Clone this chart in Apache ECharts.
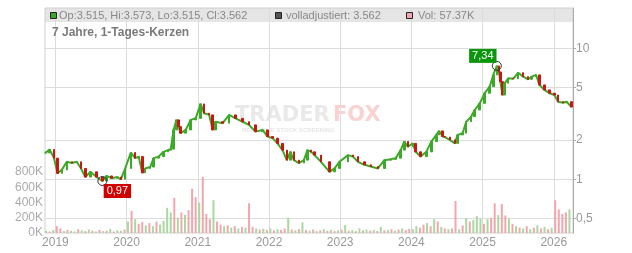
<!DOCTYPE html>
<html><head><meta charset="utf-8">
<script src="https://cdn.jsdelivr.net/npm/echarts@6/dist/echarts.min.js"></script>
<style>html,body{margin:0;padding:0;background:#fff}#c{width:632px;height:253px}</style>
</head><body><div id="c"></div>
<script>
// ---- data ----
const priceYears = [
2018.86,2018.92,2018.98,2019.03,2019.09,2019.16,2019.23,2019.30,2019.36,2019.42,
2019.49,2019.58,2019.66,2019.72,2019.79,2019.87,2019.92,2019.98,2020.06,2020.12,
2020.17,2020.22,2020.26,2020.33,2020.38,2020.45,2020.52,2020.58,2020.62,2020.66,
2020.70,2020.73,2020.76,2020.83,2020.90,2020.97,2021.04,2021.09,2021.16,2021.21,
2021.25,2021.35,2021.44,2021.53,2021.63,2021.72,2021.81,2021.91,2021.98,2022.05,
2022.12,2022.19,2022.25,2022.30,2022.35,2022.42,2022.49,2022.54,2022.59,2022.64,
2022.73,2022.85,2022.92,2022.99,2023.11,2023.18,2023.25,2023.34,2023.43,2023.53,
2023.62,2023.71,2023.78,2023.85,2023.90,2023.95,2024.02,2024.06,2024.13,2024.21,
2024.28,2024.35,2024.39,2024.44,2024.47,2024.54,2024.61,2024.65,2024.72,2024.77,
2024.84,2024.89,2024.96,2025.03,2025.10,2025.15,2025.20,2025.23,2025.25,2025.28,
2025.31,2025.36,2025.43,2025.50,2025.57,2025.64,2025.69,2025.75,2025.80,2025.87,
2025.94,2026.01,2026.06,2026.13,2026.18,2026.25];
const priceClose = [
1.59,1.69,1.45,1.11,1.18,1.36,1.33,1.36,1.21,1.04,
1.14,1.04,0.97,1.06,1.02,1.04,1.00,1.21,1.60,1.45,
1.49,1.12,1.21,1.24,1.45,1.49,1.62,1.67,1.70,2.38,
2.84,2.52,2.25,2.38,2.84,2.92,3.76,3.19,3.10,2.38,
2.75,2.68,3.10,2.92,2.75,2.60,2.31,2.38,2.12,2.06,
1.88,1.67,1.40,1.62,1.40,1.33,1.40,1.67,1.62,1.53,
1.36,1.14,1.21,1.36,1.53,1.49,1.36,1.29,1.25,1.21,
1.40,1.42,1.45,1.67,1.94,1.77,1.88,1.62,1.49,1.62,
1.94,2.18,2.34,2.12,2.10,2.00,1.88,2.18,2.25,2.75,
3.01,3.38,3.80,4.54,5.09,6.26,7.34,6.59,5.56,4.40,
5.41,5.90,5.85,6.51,6.07,5.80,6.07,6.26,5.25,4.81,
4.54,4.40,3.91,3.84,3.91,3.56];

const volYears = [
2018.87,2018.92,2018.97,
2019.02,2019.07,2019.12,2019.17,2019.22,2019.27,2019.32,2019.37,2019.42,2019.47,2019.52,2019.57,2019.62,2019.67,2019.72,2019.77,2019.82,2019.87,2019.92,2019.97,
2020.02,2020.07,2020.12,2020.17,2020.22,2020.27,2020.32,2020.37,2020.42,2020.47,2020.52,2020.57,2020.62,2020.67,2020.72,2020.77,2020.82,2020.87,2020.92,2020.97,
2021.02,2021.07,2021.12,2021.17,2021.22,2021.27,2021.32,2021.37,2021.42,2021.47,2021.52,2021.57,2021.62,2021.67,2021.72,2021.77,2021.82,2021.87,2021.92,2021.97,
2022.02,2022.07,2022.12,2022.17,2022.22,2022.27,2022.32,2022.37,2022.42,2022.47,2022.52,2022.57,2022.62,2022.67,2022.72,2022.77,2022.82,2022.87,2022.92,2022.97,
2023.02,2023.07,2023.12,2023.17,2023.22,2023.27,2023.32,2023.37,2023.42,2023.47,2023.52,2023.57,2023.62,2023.67,2023.72,2023.77,2023.82,2023.87,2023.92,2023.97,
2024.02,2024.07,2024.12,2024.17,2024.22,2024.27,2024.32,2024.37,2024.42,2024.47,2024.52,2024.57,2024.62,2024.67,2024.72,2024.77,2024.82,2024.87,2024.92,2024.97,
2025.02,2025.07,2025.12,2025.17,2025.22,2025.27,2025.32,2025.37,2025.42,2025.47,2025.52,2025.57,2025.62,2025.67,2025.72,2025.77,2025.82,2025.87,2025.92,2025.97,
2026.02,2026.07,2026.12,2026.17,2026.22];
const volK = [
30,20,40,
90,60,25,40,30,20,50,35,25,45,30,20,40,25,30,55,20,35,30,45,
150,290,180,120,145,100,130,90,150,110,160,330,270,460,200,270,240,300,580,470,
400,735,250,180,430,150,110,90,100,70,90,60,80,70,390,80,60,45,55,40,
60,35,50,40,60,200,45,35,50,140,40,30,45,25,35,50,30,40,25,35,
45,105,30,40,25,60,35,45,30,40,25,80,35,40,50,30,45,60,40,55,
50,90,70,110,130,90,180,150,80,60,50,60,420,50,100,195,150,170,220,190,
120,180,200,390,235,380,230,190,120,90,70,60,90,50,70,100,60,80,50,70,
430,310,250,270,310];
const volUp = [
1,0,1,
0,0,1,0,1,1,0,1,0,1,0,1,0,1,0,1,0,1,1,0,
1,0,1,0,0,1,0,1,0,1,1,1,1,0,1,0,1,0,0,0,
1,0,0,0,1,0,0,1,0,1,0,1,0,1,0,0,1,0,1,0,
1,0,1,0,0,1,0,1,0,1,0,1,0,1,0,1,0,1,0,1,
0,1,0,1,0,1,0,1,0,1,0,1,0,1,0,1,0,1,0,0,
1,1,0,0,1,0,1,0,1,0,1,0,0,1,0,1,0,1,1,1,
0,1,0,0,1,0,0,1,0,1,0,1,0,1,0,1,0,1,0,1,
0,0,0,0,1];

const yearTicks = [2019,2020,2021,2022,2023,2024,2025,2026];
const priceTicks = [0.5,1,2,5,10];
const highMark = {year: 2025.20, value: 7.34, text: '7,34'};
const lowMark  = {year: 2019.66, value: 0.97, text: '0,97'};
const headerOHLC = 'Op:3.515, Hi:3.573, Lo:3.515, Cl:3.562';
const headerAdj = 'volladjustiert: 3.562';
const headerVol = 'Vol: 57.37K';
const titleText = '7 Jahre, 1-Tages-Kerzen';

// ---- build series data ----
const UP = '#3caa28', DOWN = '#cc1515';
const linePts = priceYears.map((t, i) => [t, priceClose[i]]);
const candles = priceYears.map((t, i) => {
  const o = i === 0 ? priceClose[0] : priceClose[i - 1];
  const c = priceClose[i];
  return [t, o, c, Math.min(o, c), Math.max(o, c)];
});
const volData = volYears.map((t, i) => ({
  value: [t, volK[i]],
  itemStyle: {color: volUp[i] ? '#a8d9a0' : '#f2a6ae'}
}));

const FONT = '"Liberation Sans", Arial, sans-serif';
const chart = echarts.init(document.getElementById('c'), null, {renderer: 'canvas'});
chart.setOption({
  animation: false,
  grid: [
    {left: 45, right: 59, top: 8, bottom: 20, show: true, borderColor: '#cfcfcf', borderWidth: 1},
    {left: 45, right: 59, bottom: 20, height: 76.25}
  ],
  xAxis: [
    {type: 'value', gridIndex: 0, min: 2018.854, max: 2026.27,
     axisLine: {show: false},
     axisTick: {show: false, customValues: yearTicks},
     axisLabel: {customValues: yearTicks, formatter: v => String(Math.round(v)), color: '#999', fontSize: 12, fontFamily: FONT, margin: 4},
     splitLine: {show: true, lineStyle: {color: '#dcdcdc', width: 1}}},
    {type: 'value', gridIndex: 1, min: 2018.854, max: 2026.27, show: false, splitLine: {show: false}}
  ],
  yAxis: [
    {type: 'log', logBase: 10, gridIndex: 0, position: 'right', min: 0.389, max: 20.3,
     axisLine: {show: true, lineStyle: {color: '#aaa'}},
     axisTick: {show: true, length: 3, customValues: priceTicks, lineStyle: {color: '#aaa'}},
     axisLabel: {customValues: priceTicks, formatter: v => String(Math.round(v * 10) / 10).replace('.', ','), color: '#999', fontSize: 12, fontFamily: FONT, margin: 3},
     splitLine: {show: true, lineStyle: {color: '#dcdcdc', width: 1}}},
    {type: 'value', gridIndex: 1, position: 'left', min: 0, max: 1000, interval: 200,
     axisLine: {show: false}, axisTick: {show: false}, splitLine: {show: false},
     axisLabel: {formatter: v => v >= 1000 ? '' : v + 'K', color: '#aaa', fontSize: 12, fontFamily: FONT, margin: 2}}
  ],
  series: [
    {type: 'bar', xAxisIndex: 1, yAxisIndex: 1, data: volData, barWidth: 2, z: 1, silent: true},
    {type: 'line', xAxisIndex: 0, yAxisIndex: 0, data: linePts, symbol: 'none', z: 3,
     lineStyle: {color: UP, width: 2}, silent: true},
    {type: 'candlestick', xAxisIndex: 0, yAxisIndex: 0, data: candles, barWidth: 2, z: 4, silent: true,
     itemStyle: {color: UP, color0: DOWN, borderColor: UP, borderColor0: DOWN, borderWidth: 1},
     markPoint: {
       symbol: 'circle', symbolSize: 9, silent: true,
       itemStyle: {color: 'rgba(0,0,0,0)', borderColor: '#333', borderWidth: 1},
       data: [
         {coord: [highMark.year, highMark.value],
          label: {show: true, formatter: highMark.text, position: 'inside', offset: [-14, -10],
                  backgroundColor: '#0a960a', color: '#fff', padding: [1, 3], fontSize: 11, fontFamily: FONT, lineHeight: 12}},
         {coord: [lowMark.year, lowMark.value],
          label: {show: true, formatter: lowMark.text, position: 'inside', offset: [15, 10],
                  backgroundColor: '#d00000', color: '#fff', padding: [1, 3], fontSize: 11, fontFamily: FONT, lineHeight: 12}}
       ]
     }}
  ],
  graphic: [
    {type: 'rect', z: -1, silent: true, shape: {x: 45, y: 8, width: 528, height: 14}, style: {fill: '#e5e5e5'}},
    {type: 'rect', z: 10, silent: true, shape: {x: 50.5, y: 12.5, width: 6, height: 6}, style: {fill: '#3caa28', stroke: '#222', lineWidth: 1}},
    {type: 'text', z: 10, silent: true, x: 59, y: 16, style: {text: headerOHLC, fill: '#888', font: '11px ' + FONT, verticalAlign: 'middle'}},
    {type: 'rect', z: 10, silent: true, shape: {x: 275.5, y: 12.5, width: 6, height: 6}, style: {fill: '#555', stroke: '#222', lineWidth: 1}},
    {type: 'text', z: 10, silent: true, x: 286, y: 16, style: {text: headerAdj, fill: '#888', font: '11px ' + FONT, verticalAlign: 'middle'}},
    {type: 'rect', z: 10, silent: true, shape: {x: 406.5, y: 12.5, width: 6, height: 6}, style: {fill: '#f2a6ae', stroke: '#222', lineWidth: 1}},
    {type: 'text', z: 10, silent: true, x: 418, y: 16, style: {text: headerVol, fill: '#888', font: '11px ' + FONT, verticalAlign: 'middle'}},
    {type: 'text', z: 10, silent: true, x: 52, y: 33, style: {text: titleText, fill: '#7a7a7a', font: 'bold 12px ' + FONT, verticalAlign: 'middle'}},
    {type: 'text', z: -1, silent: true, x: 235, y: 116, style: {text: 'TRADER', fill: '#e9e9e9', font: 'bold 21px "DejaVu Sans", sans-serif', verticalAlign: 'middle'}},
    {type: 'text', z: -1, silent: true, x: 333, y: 116, style: {text: 'FOX', fill: '#fad2d2', font: 'bold 21px "DejaVu Sans", sans-serif', verticalAlign: 'middle'}},
    {type: 'text', z: -1, silent: true, x: 242, y: 130, style: {text: 'REAL-TIME STOCK SCREENING', fill: '#e6e6e6', font: 'bold 6px ' + FONT, verticalAlign: 'middle'}}
  ]
});
</script></body></html>
